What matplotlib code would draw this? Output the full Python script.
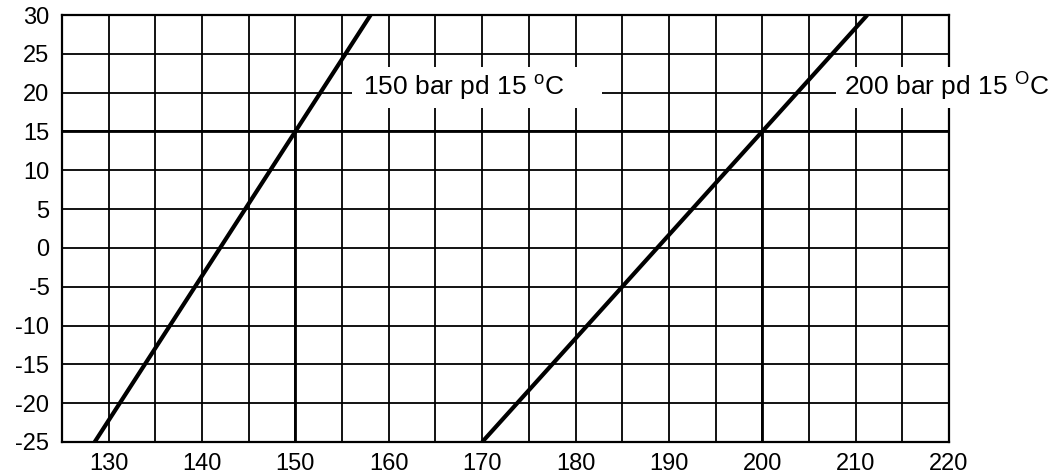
import matplotlib
matplotlib.use("Agg")
import matplotlib.pyplot as plt
from matplotlib.patches import Rectangle
import numpy as np

plt.rcParams['font.family'] = ['Liberation Sans', 'DejaVu Sans']
plt.rcParams['axes.unicode_minus'] = False
plt.rcParams['mathtext.fontset'] = 'custom'
plt.rcParams['mathtext.rm'] = 'Liberation Sans'

# data
temp_150_x = [128.5, 158.05]   # at y = -25 .. 30
temp_150_y = [-25, 30]
temp_200_x = [170.0, 211.25]
temp_200_y = [-25, 30]
ref_points_x = [150, 200]
ref_y = 15
x_ticks = [130, 140, 150, 160, 170, 180, 190, 200, 210, 220]
y_ticks = [30, 25, 20, 15, 10, 5, 0, -5, -10, -15, -20, -25]
labels = ["150 bar pd 15 $^{\\mathrm{o}}$C", "200 bar pd 15 $^{\\mathrm{O}}$C"]

fig = plt.figure(figsize=(10.57, 4.75), dpi=100)
ax = fig.add_axes([62/1057, 33/475, (949-62)/1057, (442-15)/475])
ax.set_xlim(125, 220)
ax.set_ylim(-25, 30)

# grid
for xv in np.arange(130, 220, 5):
    ax.axvline(xv, color='black', lw=1.3, zorder=1)
for yv in y_ticks:
    if -25 < yv < 30:
        ax.axhline(yv, color='black', lw=1.3, zorder=1)
# reference lines
ax.axhline(ref_y, color='black', lw=2.0, zorder=1)
for xv in ref_points_x:
    ax.plot([xv, xv], [-25, ref_y], color='black', lw=2.0, zorder=1)

ax.plot(temp_150_x, temp_150_y, color='black', lw=3.0, zorder=3, solid_capstyle='butt')
ax.plot(temp_200_x, temp_200_y, color='black', lw=3.0, zorder=3, solid_capstyle='butt')

for s in ax.spines.values():
    s.set_linewidth(1.6)
    s.set_zorder(2)

ax.set_xticks(x_ticks)
ax.set_yticks(y_ticks)
ax.tick_params(length=0, labelsize=17)
ax.tick_params(axis='x', pad=8)
ax.tick_params(axis='y', pad=9)

# white label backgrounds (gaps in the grid)
ax.add_patch(Rectangle((156.1, 18.0), 26.7, 5.3, facecolor='white', edgecolor='none',
                       zorder=2.5))
ax.add_patch(Rectangle((207.9, 18.0), 20.0, 5.3, facecolor='white', edgecolor='none',
                       zorder=2.5, clip_on=False))

ax.text(157.2, 19.7, labels[0], fontsize=19, va='baseline', ha='left', zorder=4)
ax.text(208.8, 19.7, labels[1], fontsize=19, va='baseline', ha='left', zorder=4,
        clip_on=False)

fig.savefig("out.png", dpi=100)
